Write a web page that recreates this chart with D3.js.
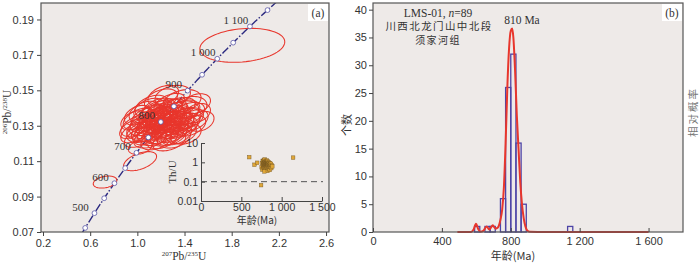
<!DOCTYPE html>
<html>
<head>
<meta charset="utf-8">
<script src="https://cdn.jsdelivr.net/npm/d3@7"></script>
<style>
  body { margin: 0; background: #fff; }
  svg { display: block; font-family: "Liberation Serif", serif; }
  .cjk { font-family: "Noto Sans CJK SC", sans-serif; }
  .tick line { stroke: #444; }
  .tick text { fill: #333; }
</style>
</head>
<body>
<svg id="chart" width="700" height="263"></svg>
<script>
// ---- data ----
// concordia markers (Ma)
const markerAges = [400, 450, 500, 550, 600, 650, 700, 750, 800, 850, 900, 950, 1000, 1050, 1100, 1150];
const labelAges = [500, 600, 700, 800, 900, 1000, 1100];

// error ellipses: [207Pb/235U, 206Pb/238U, sx, sy, rho]
const ellipses = [
  [1.30,0.1468,0.15,0.0060,0.3],[1.20,0.1448,0.14,0.0060,0.4],[1.38,0.1440,0.16,0.0064,0.3],
  [1.27,0.1425,0.13,0.0058,0.5],[1.12,0.1410,0.14,0.0062,0.4],[1.45,0.1405,0.14,0.0060,0.2],
  [1.34,0.1402,0.15,0.0057,0.4],[1.22,0.1470,0.13,0.0058,0.4],[1.50,0.1425,0.12,0.0056,0.3],
  [1.06,0.1378,0.13,0.0060,0.4],[1.16,0.1382,0.14,0.0060,0.5],[1.23,0.1388,0.15,0.0064,0.4],
  [1.29,0.1372,0.14,0.0060,0.5],[1.37,0.1378,0.15,0.0062,0.3],[1.43,0.1368,0.14,0.0064,0.4],
  [1.51,0.1372,0.11,0.0054,0.3],[1.13,0.1363,0.12,0.0058,0.4],[1.21,0.1360,0.14,0.0060,0.5],
  [1.32,0.1358,0.13,0.0056,0.4],[1.00,0.1360,0.11,0.0055,0.4],
  [1.01,0.1340,0.13,0.0060,0.5],[1.09,0.1346,0.14,0.0060,0.4],[1.17,0.1350,0.13,0.0058,0.5],
  [1.25,0.1341,0.15,0.0064,0.4],[1.31,0.1346,0.14,0.0060,0.3],[1.39,0.1336,0.15,0.0062,0.4],
  [1.47,0.1330,0.13,0.0060,0.4],[1.14,0.1328,0.14,0.0060,0.5],[1.22,0.1325,0.12,0.0056,0.4],
  [1.28,0.1322,0.14,0.0060,0.5],[1.35,0.1320,0.13,0.0058,0.4],[1.06,0.1322,0.12,0.0060,0.4],
  [1.20,0.1335,0.13,0.0060,0.4],[1.42,0.1343,0.14,0.0060,0.3],[1.54,0.1325,0.11,0.0056,0.3],
  [0.97,0.1330,0.11,0.0054,0.4],
  [0.99,0.1300,0.13,0.0060,0.5],[1.07,0.1306,0.14,0.0062,0.4],[1.15,0.1311,0.14,0.0060,0.5],
  [1.23,0.1301,0.15,0.0064,0.4],[1.30,0.1306,0.13,0.0060,0.4],[1.37,0.1296,0.14,0.0060,0.3],
  [1.45,0.1300,0.13,0.0058,0.4],[1.11,0.1286,0.13,0.0060,0.5],[1.19,0.1283,0.14,0.0062,0.4],
  [1.26,0.1280,0.13,0.0060,0.5],[1.33,0.1286,0.14,0.0060,0.4],[1.03,0.1283,0.12,0.0058,0.4],
  [0.96,0.1282,0.11,0.0054,0.5],
  [0.98,0.1262,0.12,0.0058,0.5],[1.05,0.1266,0.14,0.0060,0.4],[1.13,0.1268,0.13,0.0060,0.5],
  [1.21,0.1262,0.15,0.0062,0.4],[1.29,0.1266,0.14,0.0060,0.4],[1.37,0.1258,0.13,0.0058,0.3],
  [1.09,0.1250,0.13,0.0058,0.4],[1.17,0.1248,0.14,0.0060,0.5],[1.25,0.1246,0.14,0.0060,0.4],
  [1.33,0.1250,0.13,0.0058,0.4],[1.41,0.1254,0.13,0.0058,0.3],
  [1.02,0.1234,0.13,0.0056,0.5],[1.11,0.1230,0.14,0.0056,0.4],[1.21,0.1226,0.13,0.0056,0.4],
  [1.31,0.1232,0.14,0.0058,0.3],[1.16,0.1218,0.13,0.0054,0.4],[1.27,0.1214,0.14,0.0056,0.4],
  [1.18,0.1395,0.14,0.0060,0.4],[1.26,0.1355,0.14,0.0060,0.4],[1.12,0.1300,0.13,0.0060,0.4],
  [1.24,0.1290,0.14,0.0060,0.4],[1.34,0.1310,0.14,0.0060,0.4],[1.16,0.1320,0.13,0.0060,0.4],
  [1.28,0.1390,0.14,0.0060,0.4],[1.08,0.1270,0.13,0.0060,0.4],[1.40,0.1312,0.13,0.0060,0.4],
  [1.19,0.1372,0.13,0.0058,0.5],[1.10,0.1395,0.13,0.0060,0.4],[1.33,0.1330,0.13,0.0060,0.4],
  [1.20,0.1308,0.12,0.0056,0.5],[1.29,0.1250,0.13,0.0060,0.4],[1.40,0.1385,0.13,0.0060,0.3],
  [1.24,0.1318,0.13,0.0058,0.4],[1.15,0.1340,0.13,0.0058,0.4],[1.30,0.1286,0.13,0.0058,0.4],
  [1.21,0.1350,0.13,0.0058,0.4],
  // outliers
  [1.89,0.1754,0.36,0.0096,0.2],
  [0.726,0.0982,0.10,0.0034,0.3],
  [1.023,0.1100,0.14,0.0054,0.5],
  [1.023,0.1179,0.10,0.0040,0.3]
];

// zircon ages (Ma) and Th/U
const ages = [598, 663, 697, 745, 752, 758, 761, 765, 768,
  771,772,774,775,777,778,779,780,781,782,783,784,785,786,787,788,789,790,791,792,793,794,795,796,798,799,
  800,801,802,803,804,805,806,807,808,809,810,811,812,813,814,815,816,817,818,819,820,821,822,823,824,825,826,827,828,828,829,829,
  831,833,835,837,839,840,842,844,846,848,850,852,854,856,858,859,
  862,866,871,877,884, 1142];
const thu = [1.85, 0.75, 0.95, 0.066, 0.55, 0.9, 0.42, 1.2, 0.7,
  0.85,0.6,1.1,0.75,0.5,0.95,0.68,1.3,0.8,0.58,0.9,0.72,1.05,0.62,0.88,0.34,0.78,1.4,0.66,0.92,0.55,0.83,1.0,0.7,0.6,0.95,
  0.8,0.65,1.15,0.72,0.9,0.52,0.85,0.7,1.05,0.6,0.78,0.95,0.68,0.88,0.58,1.25,0.74,0.82,0.63,0.97,0.7,0.86,0.55,0.92,0.76,1.1,0.66,0.8,0.36,0.9,0.73,0.84,
  0.7,0.95,0.6,0.82,0.48,1.0,0.75,0.62,0.88,0.55,0.72,0.4,0.9,0.65,0.58,0.78,
  0.6,0.85,0.5,0.72,0.62, 1.75];

// probability curve
const kdeAge = [490,570,585,598,610,625,640,660,675,695,712,725,740,750,760,770,780,790,800,808,815,825,835,845,855,865,875,885,895,910,1000,1600];
const kdeVal = [0,0.02,0.5,1.5,0.6,0.05,0.2,1.0,0.45,1.2,0.6,0.8,2.2,4,8,16,26,33,36.2,36.6,35,29,21,15,9,5,2.5,1,0.3,0.05,0,0];

const xTicksA = [0.2, 0.6, 1.0, 1.4, 1.8, 2.2, 2.6];
const yTicksA = [0.07, 0.09, 0.11, 0.13, 0.15, 0.17, 0.19];
const xTicksIn = [0, 500, 1000, 1500];
const yTicksIn = [0.01, 0.1, 1, 10];
const xTicksB = [0, 400, 800, 1200, 1600];
const yTicksB = [0, 5, 10, 15, 20, 25, 30, 35, 40];

// ---- helpers ----
const svg = d3.select('#chart');
const BG = '#eeeae8', RED = '#e8362c', NAVY = '#2c2a80', FRAME = '#555';
const fmtK = v => v >= 1000 ? String(v).replace(/(\d)(\d{3})$/, '$1 $2') : String(v);
const l238 = 1.55125e-4, l235 = 9.8485e-4;
const conc = t => [Math.expm1(l235 * t), Math.expm1(l238 * t)];

function styleAxis(g, size) {
  g.select('.domain').remove();
  g.selectAll('.tick text').attr('font-size', size || 11);
}

// ================= panel (a) =================
const xA = d3.scaleLinear().domain([0.183, 2.625]).range([41, 329]);
const yA = d3.scaleLinear().domain([0.07, 0.1993]).range([232, 3]);

svg.append('rect').attr('x', 41).attr('y', 3).attr('width', 288).attr('height', 229).attr('fill', BG);
svg.append('clipPath').attr('id', 'clipA').append('rect')
  .attr('x', 41).attr('y', 3).attr('width', 288).attr('height', 229);

const plotA = svg.append('g').attr('clip-path', 'url(#clipA)');

// concordia
const concLine = d3.line().x(d => xA(conc(d)[0])).y(d => yA(conc(d)[1]));
plotA.append('path').datum(d3.range(350, 1301, 5))
  .attr('d', concLine).attr('fill', 'none').attr('stroke', NAVY)
  .attr('stroke-width', 1.4).attr('stroke-dasharray', '8,2,1.5,2');

// ellipses
const ellLine = d3.line().curve(d3.curveLinearClosed);
function ellPath(e) {
  const [cx, cy, sx, sy, r] = e;
  const pts = d3.range(0, 72).map(i => {
    const t = i / 72 * 2 * Math.PI;
    return [xA(cx + sx * Math.cos(t)), yA(cy + sy * (r * Math.cos(t) + Math.sqrt(1 - r * r) * Math.sin(t)))];
  });
  return ellLine(pts);
}
plotA.append('g').selectAll('path').data(ellipses).join('path')
  .attr('d', ellPath).attr('fill', 'none').attr('stroke', RED).attr('stroke-width', 1.05);

// age markers
plotA.append('g').selectAll('circle').data(markerAges).join('circle')
  .attr('cx', d => xA(conc(d)[0])).attr('cy', d => yA(conc(d)[1])).attr('r', 2.4)
  .attr('fill', '#fff').attr('stroke', '#5b58a8').attr('stroke-width', 0.8);

plotA.append('g').selectAll('text').data(labelAges).join('text')
  .attr('x', d => xA(conc(d)[0]) - 14).attr('y', d => yA(conc(d)[1]) - 2.5)
  .attr('text-anchor', 'middle').attr('font-size', 11).attr('fill', '#333')
  .text(fmtK);

svg.append('rect').attr('x', 41).attr('y', 3).attr('width', 288).attr('height', 229)
  .attr('fill', 'none').attr('stroke', FRAME).attr('stroke-width', 1.2);

svg.append('g').attr('transform', 'translate(0,232)')
  .call(d3.axisBottom(xA).tickValues(xTicksA).tickFormat(d3.format('.1f')).tickSize(4).tickPadding(3))
  .call(styleAxis);
svg.append('g').attr('transform', 'translate(41,0)')
  .call(d3.axisLeft(yA).tickValues(yTicksA).tickFormat(d3.format('.2f')).tickSize(4).tickPadding(3))
  .call(styleAxis);

// axis titles (a)
const yt = svg.append('text').attr('transform', 'translate(11,112) rotate(-90)')
  .attr('text-anchor', 'middle').attr('font-size', 11.5).attr('fill', '#333');
yt.append('tspan').attr('font-size', 7).attr('dy', -4).text('206');
yt.append('tspan').attr('dy', 4).text('Pb/');
yt.append('tspan').attr('font-size', 7).attr('dy', -4).text('238');
yt.append('tspan').attr('dy', 4).text('U');

const xt = svg.append('text').attr('x', 184).attr('y', 260)
  .attr('text-anchor', 'middle').attr('font-size', 11.5).attr('fill', '#333');
xt.append('tspan').attr('font-size', 7).attr('dy', -4).text('207');
xt.append('tspan').attr('dy', 4).text('Pb/');
xt.append('tspan').attr('font-size', 7).attr('dy', -4).text('235');
xt.append('tspan').attr('dy', 4).text('U');

svg.append('rect').attr('x', 308).attr('y', 4).attr('width', 20).attr('height', 17).attr('fill', '#fff');
svg.append('text').attr('x', 318).attr('y', 17).attr('text-anchor', 'middle')
  .attr('font-size', 11.5).attr('fill', '#333').text('(a)');

// ---- inset Th/U ----
const xI = d3.scaleLinear().domain([0, 1500]).range([201, 322]);
const yI = d3.scaleLog().domain([0.01, 10]).range([201, 143]);

svg.append('line').attr('x1', 201).attr('x2', 323).attr('y1', yI(0.1)).attr('y2', yI(0.1))
  .attr('stroke', '#555').attr('stroke-width', 1).attr('stroke-dasharray', '6,4');

svg.append('g').selectAll('rect').data(ages).join('rect')
  .attr('x', (d) => xI(d) - 1.8).attr('y', (d, i) => yI(thu[i]) - 1.8)
  .attr('width', 3.6).attr('height', 3.6)
  .attr('fill', '#dfa637').attr('stroke', '#6e5220').attr('stroke-width', 0.4);

svg.append('g').attr('transform', 'translate(0,201)')
  .call(d3.axisBottom(xI).tickValues(xTicksIn).tickFormat(fmtK).tickSizeInner(-4).tickSizeOuter(0).tickPadding(3))
  .call(g => g.selectAll('.tick text').attr('font-size', 10.5))
  .call(g => g.select('.domain').attr('stroke', '#444'));
svg.append('g').attr('transform', 'translate(201,0)')
  .call(d3.axisLeft(yI).tickValues(yTicksIn).tickFormat(d => String(d)).tickSizeInner(-4).tickSizeOuter(0).tickPadding(3))
  .call(g => g.selectAll('.tick text').attr('font-size', 10.5))
  .call(g => g.select('.domain').attr('stroke', '#444'));

svg.append('text').attr('transform', 'translate(176,172) rotate(-90)')
  .attr('text-anchor', 'middle').attr('font-size', 11).attr('fill', '#333').text('Th/U');
svg.append('text').attr('class', 'cjk').attr('x', 257).attr('y', 224)
  .attr('text-anchor', 'middle').attr('font-size', 10).attr('fill', '#333').text('年龄(Ma)');

// ================= panel (b) =================
const xB = d3.scaleLinear().domain([0, 1800]).range([373, 683]);
const yB = d3.scaleLinear().domain([0, 41.2]).range([232, 3]);

svg.append('rect').attr('x', 373).attr('y', 3).attr('width', 310).attr('height', 229).attr('fill', BG);

const bins = d3.bin().domain([500, 1700]).thresholds(d3.range(500, 1700, 30))(ages)
  .filter(b => b.length > 0);

svg.append('g').selectAll('rect').data(bins).join('rect')
  .attr('x', d => xB(d.x0)).attr('width', d => xB(d.x1) - xB(d.x0))
  .attr('y', d => yB(d.length)).attr('height', d => yB(0) - yB(d.length))
  .attr('fill', 'none').attr('stroke', '#4d44a6').attr('stroke-width', 1.3);

const kde = kdeAge.map((a, i) => [a, kdeVal[i]]);
svg.append('path').datum(kde)
  .attr('d', d3.line().curve(d3.curveMonotoneX).x(d => xB(d[0])).y(d => yB(d[1])))
  .attr('fill', 'none').attr('stroke', RED).attr('stroke-width', 2);

svg.append('rect').attr('x', 373).attr('y', 3).attr('width', 310).attr('height', 229)
  .attr('fill', 'none').attr('stroke', FRAME).attr('stroke-width', 1.2);

svg.append('g').attr('transform', 'translate(0,232)')
  .call(d3.axisBottom(xB).tickValues(xTicksB).tickFormat(fmtK).tickSizeInner(-4).tickSizeOuter(0).tickPadding(5))
  .call(styleAxis);
svg.append('g').attr('transform', 'translate(373,0)')
  .call(d3.axisLeft(yB).tickValues(yTicksB).tickSize(4).tickPadding(2))
  .call(styleAxis);

// texts (b)
const t1 = svg.append('text').attr('x', 438).attr('y', 17).attr('text-anchor', 'middle')
  .attr('font-size', 11.5).attr('fill', '#333');
t1.append('tspan').text('LMS-01, ');
t1.append('tspan').attr('font-style', 'italic').text('n');
t1.append('tspan').text('=89');
svg.append('text').attr('class', 'cjk').attr('x', 439).attr('y', 30).attr('text-anchor', 'middle')
  .attr('font-size', 10.5).attr('letter-spacing', 1.4).attr('fill', '#333').text('川西北龙门山中北段');
svg.append('text').attr('class', 'cjk').attr('x', 438).attr('y', 44).attr('text-anchor', 'middle')
  .attr('font-size', 10).attr('letter-spacing', 1.4).attr('fill', '#333').text('须家河组');
svg.append('text').attr('x', 522).attr('y', 24).attr('text-anchor', 'middle')
  .attr('font-size', 11.5).attr('fill', '#333').text('810 Ma');

svg.append('rect').attr('x', 662).attr('y', 4).attr('width', 20).attr('height', 17).attr('fill', '#fff');
svg.append('text').attr('x', 672).attr('y', 17).attr('text-anchor', 'middle')
  .attr('font-size', 11.5).attr('fill', '#333').text('(b)');

svg.append('text').attr('class', 'cjk').attr('transform', 'translate(351,125) rotate(-90)')
  .attr('text-anchor', 'middle').attr('font-size', 11).attr('fill', '#333').text('个数');
svg.append('text').attr('class', 'cjk').attr('transform', 'translate(697,112) rotate(-90)')
  .attr('text-anchor', 'middle').attr('font-size', 10.5).attr('letter-spacing', 2).attr('fill', '#777').text('相对概率');
svg.append('text').attr('class', 'cjk').attr('x', 513).attr('y', 260)
  .attr('text-anchor', 'middle').attr('font-size', 11).attr('fill', '#333').text('年龄(Ma)');
</script>
</body>
</html>
